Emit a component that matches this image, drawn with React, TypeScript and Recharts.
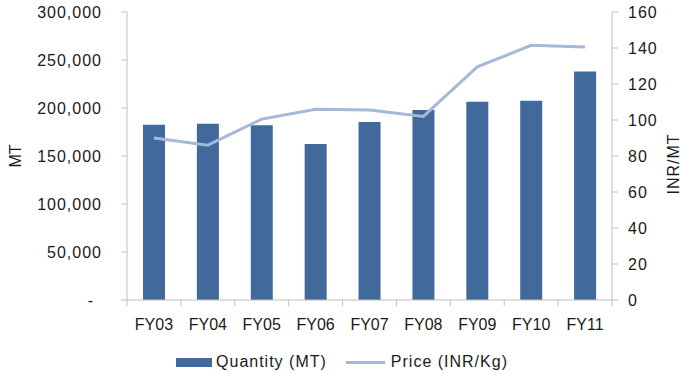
import React from 'react';
import { ComposedChart, Bar, Line, XAxis, YAxis, Legend, Label } from 'recharts';

const years = ['FY03', 'FY04', 'FY05', 'FY06', 'FY07', 'FY08', 'FY09', 'FY10', 'FY11'];
const quantityMT = [182500, 183500, 182000, 162500, 185500, 198000, 206500, 207500, 238000];
const priceINR = [90, 86, 100.5, 106, 105.5, 102, 129.5, 141.5, 140.5];
const qtyTicks = [0, 50000, 100000, 150000, 200000, 250000, 300000];
const priceTicks = [0, 20, 40, 60, 80, 100, 120, 140, 160];

const data = years.map((year, i) => ({ year, quantity: quantityMT[i], price: priceINR[i] }));

const FONT = '"Liberation Sans", Arial, Helvetica, sans-serif';
const TEXT = '#1a1a1a';
const AXIS = '#bfbfbf';
const BAR = '#41699b';
const LINE = '#a6b8d8';

function LeftTick(props: any) {
  const { x, y, payload } = props;
  const v = payload.value as number;
  const isZero = v === 0;
  return (
    <text
      x={isZero ? x - 8 : x}
      y={y}
      dy="0.355em"
      textAnchor="end"
      fill={TEXT}
      fontSize={16}
      letterSpacing={1}
      fontFamily={FONT}
    >
      {isZero ? '-' : v.toLocaleString('en-US')}
    </text>
  );
}

function RightTick(props: any) {
  const { x, y, payload } = props;
  return (
    <text x={x} y={y} dy="0.355em" textAnchor="start" fill={TEXT} fontSize={16} letterSpacing={1} fontFamily={FONT}>
      {payload.value}
    </text>
  );
}

function CategoryTick(props: any) {
  const { x, y, payload, index, width } = props;
  const band = (typeof width === 'number' && width > 0 ? width : 485) / years.length;
  const half = band / 2;
  return (
    <g>
      {index === 0 && <line x1={x - half} x2={x - half} y1={y} y2={y + 6} stroke={AXIS} />}
      <line x1={x + half} x2={x + half} y1={y} y2={y + 6} stroke={AXIS} />
      <text x={x} y={y + 19} dy="0.71em" textAnchor="middle" fill={TEXT} fontSize={16} fontFamily={FONT}>
        {payload.value}
      </text>
    </g>
  );
}

function LegendContent() {
  return (
    <div
      style={{
        display: 'flex',
        justifyContent: 'center',
        alignItems: 'center',
        height: 24,
        fontFamily: FONT,
        fontSize: 16,
        letterSpacing: 1,
        color: TEXT,
        paddingLeft: 4,
      }}
    >
      <span style={{ display: 'inline-block', width: 36, height: 9, background: BAR, marginRight: 4 }} />
      <span>Quantity (MT)</span>
      <span style={{ display: 'inline-block', width: 39, height: 3, background: LINE, marginLeft: 19, marginRight: 6 }} />
      <span>Price (INR/Kg)</span>
    </div>
  );
}

export default function App() {
  return (
    <div style={{ position: 'absolute', left: 0, top: 0, width: 680, height: 374, background: '#fff' }}>
      <ComposedChart width={680} height={374} data={data} margin={{ top: 12, right: 0, bottom: 0, left: 0 }}>
        <XAxis
          dataKey="year"
          xAxisId="x"
          height={50}
          stroke={AXIS}
          tickLine={false}
          tickSize={0}
          tickMargin={0}
          tick={<CategoryTick />}
          interval={0}
        />
        <YAxis
          yAxisId="qty"
          orientation="left"
          width={127}
          domain={[0, 300000]}
          ticks={qtyTicks}
          stroke={AXIS}
          tickSize={6}
          tickMargin={19}
          tick={<LeftTick />}
          interval={0}
        >
          <Label
            content={() => (
              <text
                transform="translate(15,156) rotate(-90)"
                textAnchor="middle"
                dominantBaseline="central"
                fill={TEXT}
                fontSize={16}
                fontFamily={FONT}
              >
                MT
              </text>
            )}
          />
        </YAxis>
        <YAxis
          yAxisId="price"
          orientation="right"
          width={68}
          domain={[0, 160]}
          ticks={priceTicks}
          stroke={AXIS}
          tickSize={6}
          tickMargin={10}
          tick={<RightTick />}
          interval={0}
        >
          <Label
            content={() => (
              <text
                transform="translate(673,164) rotate(-90)"
                textAnchor="middle"
                dominantBaseline="central"
                fill={TEXT}
                fontSize={16}
                letterSpacing={1}
                fontFamily={FONT}
              >
                INR/MT
              </text>
            )}
          />
        </YAxis>
        <Bar
          xAxisId="x"
          yAxisId="qty"
          dataKey="quantity"
          name="Quantity (MT)"
          fill={BAR}
          barSize={22}
          isAnimationActive={false}
        />
        <Line
          xAxisId="x"
          yAxisId="price"
          dataKey="price"
          name="Price (INR/Kg)"
          stroke={LINE}
          strokeWidth={3}
          dot={false}
          activeDot={false}
          type="linear"
          isAnimationActive={false}
        />
        <Legend verticalAlign="bottom" align="center" content={<LegendContent />} />
      </ComposedChart>
    </div>
  );
}
